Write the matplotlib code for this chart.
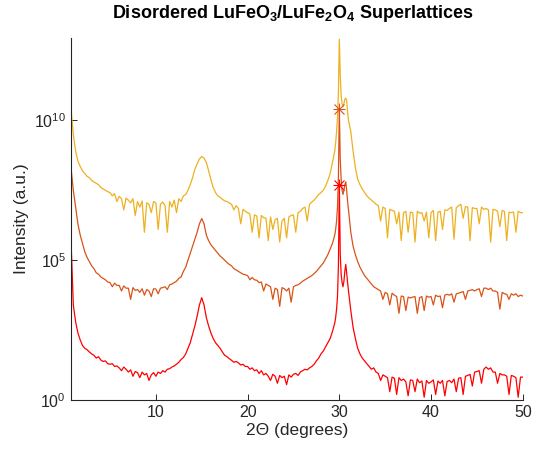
import numpy as np
import matplotlib
matplotlib.use("Agg")
import matplotlib.pyplot as plt

plt.rcParams['font.family'] = ['Liberation Sans', 'DejaVu Sans']
plt.rcParams['mathtext.fontset'] = 'custom'
plt.rcParams['mathtext.rm'] = 'Liberation Sans'
plt.rcParams['mathtext.bf'] = 'Liberation Sans:bold'

# sample positions (2-theta, degrees)
x_deg = np.concatenate([
    np.arange(0.75, 29.3, 0.25),      # 0.75 .. 29.25
    np.round(np.arange(29.5, 31.05, 0.1), 2),  # 29.5 .. 31.0
    np.arange(31.25, 50.01, 0.25),    # 31.25 .. 50.0
])

# log10 intensity
red_log = [
    5.7,
    3.4, 2.8, 2.4, 2.15,
    1.95, 1.85, 1.8, 1.72,
    1.65, 1.6, 1.5, 1.55,
    1.43, 1.38, 1.4, 1.3,
    1.28, 1.3, 1.2, 1.22,
    1.15, 1.05, 1.18, 1.1,
    1.0, 1.08, 0.85, 1.02,
    0.98, 0.8, 1.0, 0.9,
    0.95, 0.7, 0.9, 0.98,
    0.85, 1.0, 0.95, 1.05,
    1.0, 1.1, 1.12, 1.18,
    1.22, 1.28, 1.35, 1.45,
    1.52, 1.65, 1.85, 2.05,
    2.35, 2.65, 3.0, 3.4,
    3.66, 3.4, 2.95, 2.65,
    2.4, 2.2, 2.05, 1.95,
    1.85, 1.72, 1.6, 1.55,
    1.48, 1.42, 1.35, 1.38,
    1.33, 1.25, 1.28, 1.2,
    1.2, 1.1, 1.15, 1.05,
    1.08, 0.95, 1.05, 0.9,
    0.95, 0.85, 0.7, 0.92,
    0.85, 0.6, 0.88, 0.8,
    0.85, 0.55, 0.9, 0.82,
    0.92, 0.95, 0.88, 1.0,
    1.05, 1.1, 1.08, 1.15,
    1.2, 1.28, 1.4, 1.5,
    1.65, 1.75, 1.9, 2.05,
    2.2, 2.45,
    2.75, 2.95, 3.25, 3.7, 4.8, 7.7, 5.2, 4.5, 4.2, 4.05, 4.25, 4.6, 4.85, 4.55, 4.2, 3.9,
    3.2, 2.6, 2.2,
    1.85, 1.65, 1.5, 1.4,
    1.3, 1.2, 1.1, 1.15,
    1.0, 0.95, 0.7, 0.9,
    0.85, 0.8, 0.3, 0.82,
    0.78, 0.2, 0.8, 0.7,
    0.75, 0.65, 0.15, 0.72,
    0.7, 0.3, 0.75, 0.62,
    0.68, 0.1, 0.7, 0.6,
    0.65, 0.72, 0.2, 0.68,
    0.6, 0.7, 0.15, 0.66,
    0.7, 0.62, 0.75, 0.3,
    0.78, 0.8, 0.2, 0.85,
    0.88, 0.92, 0.5, 1.0,
    1.02, 1.05, 0.6, 1.1,
    1.18, 1.1, 1.15, 1.0,
    1.0, 0.6, 0.95, 0.9,
    0.9, 0.85, 0.2, 0.88,
    0.85, 0.8, 0.1, 0.82,
    0.82,
]

orange_log = [
    8.3,
    7.5, 6.9, 6.3, 5.9,
    5.6, 5.3, 5.1, 4.95,
    4.8, 4.7, 4.55, 4.5,
    4.4, 4.35, 4.3, 4.22,
    4.2, 4.05, 4.18, 4.1,
    4.1, 3.9, 4.08, 4.0,
    4.0, 3.6, 4.02, 3.92,
    3.95, 3.85, 3.98, 3.75,
    3.95, 3.9, 3.7, 3.98,
    3.97, 3.8, 4.0, 4.02,
    4.05, 3.95, 4.12, 4.15,
    4.2, 4.25, 4.35, 4.4,
    4.6, 4.75, 5.0, 5.25,
    5.5, 5.75, 6.0, 6.3,
    6.49, 6.3, 5.9, 5.7,
    5.55, 5.45, 5.35, 5.25,
    5.15, 5.08, 5.0, 4.92,
    4.85, 4.8, 4.7, 4.65,
    4.6, 4.55, 4.5, 4.48,
    4.45, 4.3, 4.38, 4.3,
    4.28, 4.2, 4.22, 3.9,
    4.15, 4.1, 4.05, 3.6,
    4.0, 3.95, 3.35, 4.02,
    3.98, 3.9, 4.0, 3.5,
    4.05, 4.1, 4.12, 4.18,
    4.25, 4.3, 4.35, 4.4,
    4.45, 4.52, 4.6, 4.7,
    4.8, 4.9, 5.05, 5.2,
    5.4, 5.6,
    5.9, 6.1, 6.4, 6.9, 8.0, 10.4, 8.6, 7.9, 7.5, 7.35, 7.5, 7.7, 7.8, 7.5, 7.1, 6.8,
    6.0, 5.5, 5.2,
    4.95, 4.75, 4.6, 4.45,
    4.35, 4.25, 4.15, 4.05,
    4.0, 3.95, 3.9, 3.6,
    3.85, 3.8, 3.4, 3.82,
    3.75, 3.7, 3.1, 3.72,
    3.7, 3.2, 3.68, 3.65,
    3.68, 3.7, 3.1, 3.66,
    3.7, 3.2, 3.72, 3.68,
    3.7, 3.4, 3.75, 3.7,
    3.72, 3.3, 3.75, 3.78,
    3.75, 3.8, 3.5, 3.8,
    3.82, 3.85, 3.88, 3.6,
    3.9, 3.92, 3.95, 3.9,
    3.95, 3.98, 3.7, 4.0,
    4.0, 3.95, 4.0, 3.9,
    3.9, 3.85, 3.25, 3.85,
    3.8, 3.78, 3.6, 3.8,
    3.75, 3.8, 3.7, 3.75,
    3.72,
]

gold_log = [
    10.4,
    9.5, 8.9, 8.55, 8.35,
    8.2, 8.1, 8.0, 7.95,
    7.85, 7.8, 7.75, 7.7,
    7.6, 7.55, 7.5, 7.45,
    7.42, 7.3, 7.38, 7.1,
    7.28, 7.2, 6.8, 7.22,
    7.15, 7.05, 7.2, 6.6,
    7.1, 6.9, 7.12, 6.0,
    7.05, 7.0, 6.7, 7.1,
    7.05, 6.1, 7.0, 7.08,
    6.95, 6.0, 7.1, 6.9,
    7.15, 6.7, 7.2, 7.1,
    7.3, 7.35, 7.5, 7.7,
    7.95, 8.25, 8.45, 8.62,
    8.71, 8.65, 8.5, 8.2,
    7.88, 7.6, 7.42, 7.3,
    7.25, 7.18, 7.12, 7.1,
    7.05, 7.0, 6.8, 6.95,
    6.85, 6.3, 6.82, 6.75,
    6.7, 6.65, 6.0, 6.62,
    6.58, 5.8, 6.6, 6.52,
    6.5, 5.7, 6.55, 6.1,
    6.45, 6.5, 5.65, 6.4,
    6.5, 5.8, 6.55, 6.6,
    6.62, 6.0, 6.7, 6.75,
    6.85, 6.9, 6.4, 7.0,
    7.08, 7.15, 7.25, 7.35,
    7.42, 7.5, 7.65, 7.85,
    8.1, 8.5,
    8.9, 9.2, 9.6, 10.1, 11.0, 12.9, 11.6, 10.9, 10.6, 10.5, 10.6, 10.75, 10.8, 10.7, 10.3, 10.0,
    9.6, 8.9, 8.3,
    7.9, 7.7, 7.55, 7.42,
    7.3, 7.22, 7.15, 7.08,
    7.0, 6.95, 6.4, 6.9,
    6.85, 5.8, 6.82, 6.78,
    6.75, 6.3, 6.72, 5.7,
    6.7, 6.75, 6.0, 6.72,
    6.7, 5.65, 6.75, 6.68,
    6.7, 6.4, 6.72, 5.8,
    6.7, 6.78, 5.7, 6.72,
    6.75, 6.1, 6.8, 6.78,
    6.85, 6.9, 5.75, 6.88,
    6.95, 7.0, 6.5, 6.92,
    6.9, 5.7, 6.88, 6.85,
    6.85, 6.3, 6.9, 6.82,
    6.85, 6.8, 5.65, 6.82,
    6.8, 6.75, 6.2, 6.78,
    6.75, 5.7, 6.72, 6.7,
    6.72, 6.0, 6.75, 6.7,
    6.7,
]

# peak markers (x, log10 intensity)
star_x = [30.0, 30.0]
star_log = [10.4, 7.7]

col_red = '#FF0000'
col_orange = '#D95319'
col_gold = '#EDB120'

fig = plt.figure(figsize=(5.34, 4.51), dpi=100)
ax = fig.add_axes([0.133, 0.113, 0.846, 0.803])

def pair(vals):
    n = min(len(x_deg), len(vals))
    return x_deg[:n], 10.0 ** np.asarray(vals[:n])

xg, yg = pair(gold_log)
xo, yo = pair(orange_log)
xr, yr = pair(red_log)
ax.plot(xg, yg, color=col_gold, lw=0.9)
ax.plot(xo, yo, color=col_orange, lw=0.9)
ax.plot(xr, yr, color=col_red, lw=0.9)
for sx, sl, c in [(star_x[0], star_log[0], col_orange), (star_x[1], star_log[1], col_red)]:
    ax.plot([sx], [10 ** sl], marker='+', ls='none', color=c, ms=9, markeredgewidth=0.8)
    ax.plot([sx], [10 ** sl], marker='x', ls='none', color=c, ms=6.5, markeredgewidth=0.8)

ax.set_yscale('log')
ax.set_xlim(0.75, 50)
ax.set_ylim(1, 10 ** 12.95)
ax.set_xticks([10, 20, 30, 40, 50])
ax.set_yticks([1, 1e5, 1e10])
ax.yaxis.set_minor_locator(matplotlib.ticker.NullLocator())
ax.tick_params(direction='in', length=4, width=0.7, labelsize=11.5, colors='#262626')
for s in ['top', 'right']:
    ax.spines[s].set_visible(False)
for s in ['left', 'bottom']:
    ax.spines[s].set_linewidth(0.8)
    ax.spines[s].set_color('#262626')

ax.set_xlabel('2Θ (degrees)', fontsize=12.5, color='#262626', labelpad=2)
ax.set_ylabel('Intensity (a.u.)', fontsize=12.5, color='#262626', labelpad=4)
ax.set_title(r'Disordered LuFeO$_\mathbf{3}$/LuFe$_\mathbf{2}$O$_\mathbf{4}$ Superlattices',
             fontsize=13, fontweight='bold', pad=14, x=0.49)

fig.savefig('out.png', dpi=100)
